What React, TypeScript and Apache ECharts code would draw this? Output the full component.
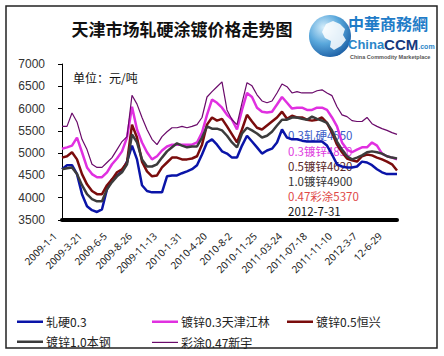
import React, { useEffect, useRef } from "react";
import * as echarts from "echarts";

const categories = [
  "2009-1-1", "2009-1-16", "2009-2-3", "2009-2-20", "2009-3-6",
  "2009-3-21", "2009-4-6", "2009-4-21", "2009-5-6", "2009-5-21",
  "2009-6-5", "2009-6-22", "2009-7-8", "2009-7-24", "2009-8-10",
  "2009-8-26", "2009-9-11", "2009-9-28", "2009-10-15", "2009-10-29",
  "2009-11-13", "2009-11-30", "2009-12-16", "2010-1-1", "2010-1-16",
  "2010-1-31", "2010-2-18", "2010-3-8", "2010-3-22", "2010-4-6",
  "2010-4-20", "2010-5-9", "2010-5-28", "2010-6-16", "2010-7-14",
  "2010-8-2", "2010-8-24", "2010-9-15", "2010-10-9", "2010-11-2",
  "2010-11-25", "2010-12-17", "2011-01-12", "2011-02-17", "2011-03-02",
  "2011-03-24", "2011-04-15", "2011-05-10", "2011-06-02", "2011-06-24",
  "2011-07-18", "2011-08-09", "2011-09-01", "2011-09-23", "2011-10-18",
  "2011-11-10", "2011-12-02", "2011-12-26", "2012-1-18", "2012-2-14",
  "2012-3-7", "2012-3-29", "2012-4-20", "2012-5-14", "2012-6-6",
  "12-6-29", "2012-7-13", "2012-7-31",
];

const rolled03 = [
  4640, 4730, 4730, 4530, 4080, 3810, 3720, 3680, 3740, 4190,
  4410, 4500, 4590, 4810, 5170, 4860, 4280, 4150, 4120, 4120,
  4120, 4480, 4500, 4500, 4550, 4590, 4640, 4730, 4970, 5240,
  5310, 5190, 5040, 4990, 4900, 4900, 5170, 5390, 5260, 5130,
  4990, 5060, 5100, 5240, 5530, 5350, 5310, 5310, 5280, 5260,
  5260, 5260, 5260, 5170, 4970, 4750, 4700, 4680, 4680, 4700,
  4810, 4790, 4730, 4640, 4570, 4530, 4530, 4530,
];

const galv03 = [
  5100, 5130, 5170, 5350, 5020, 4680, 4530, 4460, 4460, 4570,
  4750, 4880, 5040, 5350, 6040, 5530, 5240, 5020, 4860, 4930,
  5060, 5150, 5190, 5190, 5190, 5190, 5190, 5240, 5460, 5860,
  6200, 6130, 6020, 5860, 5750, 5530, 5970, 6350, 6260, 6020,
  5930, 5910, 5930, 6090, 6260, 6130, 6000, 6020, 6020, 5970,
  5970, 6020, 6020, 5970, 5800, 5600, 5240, 5080, 5020, 5080,
  5130, 5130, 5240, 5170, 4990, 4930, 4900, 4860,
];

const galv05 = [
  4900, 4930, 5020, 4860, 4530, 4300, 4150, 4080, 4080, 4280,
  4410, 4570, 4640, 4790, 5640, 5350, 4810, 4590, 4480, 4500,
  4680, 4790, 4900, 4900, 4860, 4860, 4880, 4930, 5190, 5640,
  5800, 5730, 5770, 5600, 5420, 5240, 5530, 5860, 5710, 5570,
  5530, 5620, 5710, 5800, 5930, 5770, 5840, 5800, 5800, 5750,
  5730, 5750, 5800, 5680, 5460, 5190, 5020, 4880, 4840, 4810,
  4930, 4970, 4950, 4900, 4860, 4810, 4750, 4610,
];

const galv10 = [
  4640, 4660, 4680, 4530, 4280, 4080, 3970, 3920, 3920, 4190,
  4350, 4480, 4570, 4750, 5420, 5240, 4860, 4700, 4700, 4750,
  4900, 5040, 5130, 5220, 5170, 5130, 5150, 5150, 5350, 5600,
  5550, 5550, 5510, 5390, 5240, 5130, 5440, 5570, 5510, 5440,
  5350, 5390, 5480, 5620, 5750, 5750, 5800, 5800, 5770, 5750,
  5820, 5770, 5730, 5680, 5510, 5260, 5080, 4930, 4860, 4900,
  4950, 5020, 5040, 5020, 4990, 4930, 4900, 4880,
];

const coated047 = [
  5600, 5600, 5900, 5700, 5310, 5080, 4750, 4680, 4680, 4790,
  4900, 5080, 5260, 5370, 6300, 6100, 5800, 5530, 5310, 5190,
  5370, 5480, 5570, 5570, 5600, 5570, 5600, 5640, 5800, 6260,
  6380, 6490, 6600, 5970, 5750, 5640, 6130, 6580, 6510, 6310,
  6170, 6130, 6170, 6350, 6550, 6490, 6350, 6380, 6350, 6350,
  6350, 6400, 6420, 6350, 6290, 6040, 5860, 5820, 5730, 5710,
  5710, 5800, 5660, 5600, 5550, 5510, 5460, 5420,
];

const seriesNames = ["轧硬0.3", "镀锌0.3天津江林", "镀锌0.5恒兴", "镀锌1.0本钢", "彩涂0.47新宇"];
const seriesColors = ["#0a14a8", "#e030e0", "#7a0c0c", "#3c3c3c", "#6a0a6a"];

const yMin = 3500;
const yMax = 7000;
const yStep = 500;

const titleText = "天津市场轧硬涂镀价格走势图";
const unitText = "单位：元/吨";
const noteTexts = ["0.3轧硬4550", "0.3镀锌4850", "0.5镀锌4620", "1.0镀锌4900", "0.47彩涂5370", "2012-7-31"];
const noteColors = ["#3a5cc8", "#e040e0", "#5a2626", "#333333", "#e04848", "#111111"];

const CJK = "'Noto Sans CJK SC', 'Noto Sans', sans-serif";

export default function App() {
  const ref = useRef<HTMLDivElement>(null);

  useEffect(() => {
    if (!ref.current) return;
    const chart = echarts.init(ref.current, undefined, { renderer: "svg" });
    const dataSets = [rolled03, galv03, galv05, galv10, coated047];
    const widths = [2.5, 2.5, 2.5, 2.5, 1.2];

    const legendPos = [
      { left: 17, cy: 317 },
      { left: 152, cy: 317 },
      { left: 287, cy: 317 },
      { left: 17, cy: 337 },
      { left: 152, cy: 337 },
    ];

    const noteY = [135, 151, 166, 181, 196, 211];

    const option: any = {
      animation: false,
      backgroundColor: "#ffffff",
      grid: { left: 62, right: 47, top: 64, bottom: 136, containLabel: false },
      xAxis: {
        type: "category",
        data: categories,
        boundaryGap: false,
        axisLine: { show: true, lineStyle: { color: "#000", width: 4 } },
        axisTick: { show: false },
        axisLabel: {
          interval: 4,
          rotate: 45,
          margin: 7,
          padding: [0, 10, 0, 0],
          fontSize: 10,
          color: "#222",
          fontFamily: "'Noto Sans', sans-serif",
        },
        splitLine: { show: false },
      },
      yAxis: {
        type: "value",
        min: yMin,
        max: yMax,
        interval: yStep,
        axisLine: { show: true, lineStyle: { color: "#000", width: 1 } },
        axisTick: { show: true, inside: false, length: 4, lineStyle: { color: "#000" } },
        axisLabel: {
          margin: 17,
          fontSize: 12,
          color: "#333",
          fontFamily: "'Liberation Sans', Arial, sans-serif",
          formatter: (v: number) => String(v),
        },
        splitLine: { show: false },
      },
      legend: seriesNames.map((n, i) => {
        const h = widths[i];
        return {
          data: [n],
          left: legendPos[i].left,
          top: legendPos[i].cy - h / 2,
          orient: "horizontal",
          icon: "rect",
          itemWidth: 26,
          itemHeight: h,
          itemGap: 0,
          padding: 0,
          selectedMode: false,
          itemStyle: { color: seriesColors[i], borderWidth: 0 },
          lineStyle: { width: 0, opacity: 0 },
          textStyle: { fontSize: 12, color: "#222", fontFamily: CJK, padding: [0, 0, 0, -2] },
        };
      }),
      series: seriesNames.map((n, i) => ({
        name: n,
        type: "line",
        data: dataSets[i],
        symbol: "none",
        showSymbol: false,
        color: seriesColors[i],
        lineStyle: { color: seriesColors[i], width: widths[i] },
        z: 2 + i,
      })),
      graphic: [
        {
          type: "rect",
          shape: { x: 6, y: 6, width: 431, height: 342 },
          style: { fill: "none", stroke: "#222", lineWidth: 1.5 },
          silent: true,
        },
        {
          type: "text",
          x: 182,
          y: 28,
          style: {
            text: titleText,
            fill: "#111",
            fontSize: 17,
            fontWeight: "bold",
            fontFamily: CJK,
            align: "center",
            verticalAlign: "middle",
          },
        },
        {
          type: "circle",
          shape: { cx: 330, cy: 36, r: 21 },
          style: {
            fill: new echarts.graphic.RadialGradient(0.35, 0.3, 0.85, [
              { offset: 0, color: "#d6eefb" },
              { offset: 0.45, color: "#5aa8dc" },
              { offset: 1, color: "#0c4c96" },
            ]),
          },
        },
        {
          type: "polygon",
          shape: {
            points: [
              [326, 24], [333, 21], [340, 24], [345, 29], [343, 35], [346, 40],
              [341, 46], [334, 50], [330, 47], [331, 41], [325, 38], [322, 32],
            ],
          },
          style: { fill: "rgba(255,255,255,0.85)" },
        },
        {
          type: "text",
          x: 348,
          y: 23,
          style: {
            text: "中華商務網",
            fill: "#1f7cc8",
            fontSize: 16,
            fontWeight: "bold",
            fontFamily: CJK,
            align: "left",
            verticalAlign: "middle",
          },
        },
        {
          type: "text",
          x: 348,
          y: 44,
          style: {
            text: "{a|China}{b|CCM}{c|.com}",
            align: "left",
            verticalAlign: "middle",
            rich: {
              a: { fontSize: 13, fontWeight: "bold", fill: "#2b86c8", fontFamily: "'Liberation Sans', sans-serif" },
              b: { fontSize: 15, fontWeight: "bold", fill: "#17397e", fontFamily: "'Liberation Sans', sans-serif" },
              c: { fontSize: 7, fontWeight: "bold", fill: "#2b86c8", fontFamily: "'Liberation Sans', sans-serif", padding: [5, 0, 0, 0] },
            },
          },
        },
        {
          type: "text",
          x: 350,
          y: 57,
          style: {
            text: "China Commodity Marketplace",
            fill: "#555",
            fontSize: 5.5,
            fontWeight: "bold",
            fontFamily: "'Liberation Sans', sans-serif",
            align: "left",
            verticalAlign: "middle",
          },
        },
        {
          type: "text",
          x: 73,
          y: 77,
          style: {
            text: unitText,
            fill: "#111",
            fontSize: 12,
            fontFamily: CJK,
            align: "left",
            verticalAlign: "middle",
          },
        },
        ...noteTexts.map((t, i) => ({
          type: "text",
          x: 288,
          y: noteY[i],
          z: 1,
          style: {
            text: t,
            fill: noteColors[i],
            fontSize: 11.5,
            lineHeight: 12,
            fontFamily: CJK,
            align: "left",
            verticalAlign: "middle",
          },
        })),
      ],
    };

    chart.setOption(option);
    return () => {
      chart.dispose();
    };
  }, []);

  return (
    <div
      ref={ref}
      style={{ position: "fixed", left: 0, top: 0, width: 444, height: 356, background: "#fff" }}
    />
  );
}
